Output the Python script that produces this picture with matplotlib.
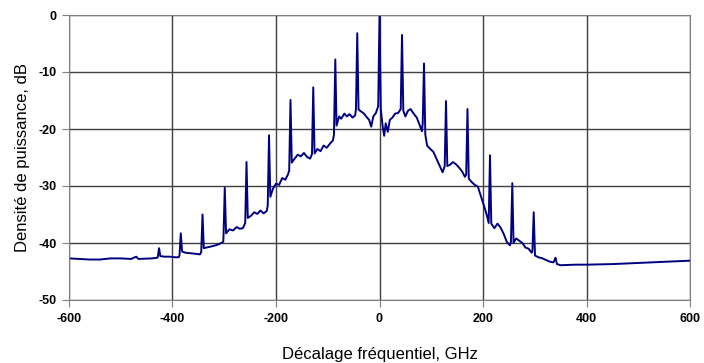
import matplotlib
matplotlib.use("Agg")
import matplotlib.pyplot as plt

plt.rcParams['font.family'] = ['Liberation Sans', 'DejaVu Sans']
plt.rcParams['axes.unicode_minus'] = False

# spectrum trace (GHz, dB)
freq = [-600, -580, -560, -540, -520, -500, -480, -470, -466, -440, -430, -428.5, -426, -423.5,
        -415, -405, -395, -388, -386.5, -384, -381.5, -375, -365, -355, -347, -344.5, -342, -339.5,
        -330, -320, -310, -302, -301.5, -299, -296.5, -290, -283, -276, -270, -264, -259.5, -257,
        -254.5, -248, -242, -236, -230, -224, -218, -216, -213.5, -211, -206, -200, -194, -188,
        -182, -177, -174.5, -172, -169.5, -164, -158, -152, -146, -140, -134, -130.5, -128, -125.5,
        -120, -114, -108, -102, -96, -90, -88, -85.4, -83, -78, -74, -68, -63, -58, -52,
        -47, -45.5, -43, -40.5, -36, -30, -24, -20, -16, -12, -7, -2.5, 0, 2.5, 6, 9, 12, 16, 20,
        25, 30, 36, 41, 43.5, 46, 50, 55, 60, 66, 72, 78, 82, 83.5, 86, 88.5, 92, 98, 104, 110,
        116, 122, 126, 128.5, 131, 136, 142, 148, 154, 160, 165, 167.5, 170, 172.5, 178, 184,
        190, 196, 202, 207, 211, 213.5, 216, 222, 228, 234, 240, 246, 252, 254, 256.6, 259,
        264, 270, 276, 282, 288, 294, 295.5, 298, 300.5, 307, 315, 322, 330, 336, 338, 340, 343,
        350, 380, 400, 450, 500, 550, 600]
power = [-42.7, -42.8, -42.9, -42.9, -42.7, -42.7, -42.8, -42.4, -42.8, -42.7, -42.6, -42.5,
         -40.9, -42.3, -42.4, -42.4, -42.5, -42.5, -42.2, -38.3, -41.5, -41.7, -41.8, -41.9,
         -42.0, -41.6, -35.0, -40.9, -40.7, -40.5, -40.2, -39.8, -39.0, -30.3, -38.3, -37.6,
         -37.8, -37.2, -37.5, -37.4, -36.5, -25.8, -35.6, -35.2, -34.6, -34.9, -34.3, -34.8,
         -34.4, -33.5, -21.1, -31.9, -30.5, -29.6, -29.8, -28.6, -28.9, -28.0, -27.3, -14.9,
         -25.9, -25.2, -24.5, -24.8, -24.2, -24.9, -25.2, -24.4, -12.7, -24.3, -23.5, -23.9,
         -22.9, -23.3, -22.6, -22.0, -21.0, -7.8, -19.4, -17.8, -18.2, -17.3, -17.8, -17.4,
         -18.0, -17.6, -16.5, -3.2, -16.6, -16.9, -17.3, -18.0, -18.4, -19.6, -17.8, -17.2,
         -16.0, 0.0, -16.5, -19.5, -21.2, -19.0, -20.5, -18.4, -18.0, -17.3, -17.2, -16.5,
         -3.5, -16.8, -17.8, -16.8, -16.5, -17.3, -18.0, -19.4, -20.4, -19.0, -8.5, -21.0,
         -22.9, -23.5, -24.0, -25.2, -26.4, -27.6, -26.5, -15.1, -26.5, -26.3, -25.8, -26.2,
         -26.8, -27.5, -28.4, -28.0, -16.5, -28.7, -29.3, -29.8, -30.1, -31.8, -33.5, -35.0,
         -36.5, -24.6, -36.6, -37.4, -36.6, -37.3, -38.4, -39.8, -40.4, -39.8, -29.5, -40.0,
         -39.2, -39.6, -40.0, -40.8, -41.0, -41.7, -41.4, -34.6, -42.2, -42.5, -42.7, -43.0,
         -43.3, -43.4, -43.1, -42.6, -43.7, -43.9, -43.8, -43.8, -43.7, -43.5, -43.3, -43.1]

xticks = [-600, -400, -200, 0, 200, 400, 600]
yticks = [0, -10, -20, -30, -40, -50]

fig = plt.figure(figsize=(7.04, 3.63), dpi=100, facecolor='white')
ax = fig.add_axes([69/704, 63/363, 621/704, 285/363])

ax.plot(freq, power, color='#000080', linewidth=1.4)

ax.set_xlim(-600, 600)
ax.set_ylim(-50, 0)
ax.set_xticks(xticks)
ax.set_yticks(yticks)
ax.grid(True, color='#404040', linewidth=1)
ax.set_axisbelow(True)
for s in ax.spines.values():
    s.set_color('#808080')
ax.tick_params(direction='out', length=5, color='#808080', labelsize=9, pad=4)
for lab in ax.get_xticklabels() + ax.get_yticklabels():
    lab.set_fontweight('bold')

ax.set_xlabel('Décalage fréquentiel, GHz', fontsize=12, labelpad=16)
ax.set_ylabel('Densité de puissance, dB', fontsize=12, labelpad=6)

fig.savefig('out.png', dpi=100, facecolor='white')
